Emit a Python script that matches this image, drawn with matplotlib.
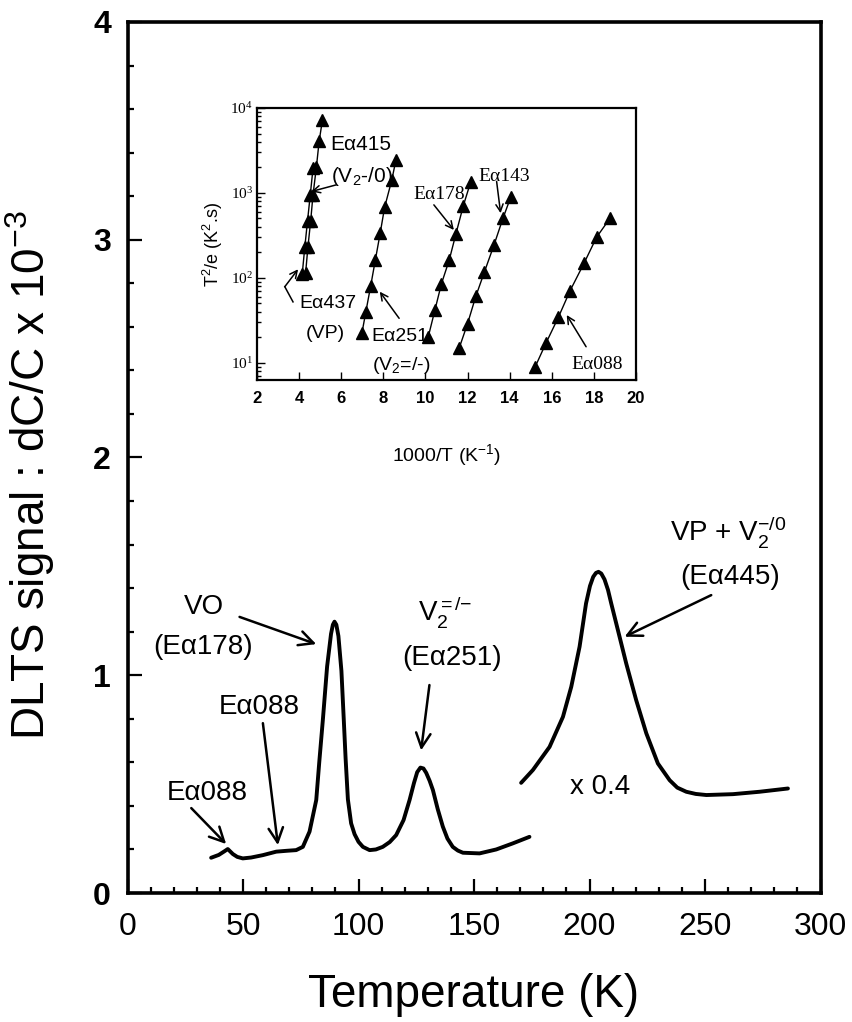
"""DLTS spectrum with Arrhenius-plot inset."""
import matplotlib
matplotlib.use('Agg')
import matplotlib.pyplot as plt
from matplotlib.ticker import MultipleLocator, LogLocator, NullFormatter
import numpy as np

# ---- main DLTS spectrum: low-T part (as measured) ----
T_low = [36.2, 39.5, 42.0, 43.4, 45.6, 47.5, 49.9, 53.5, 58.6, 64.4, 69.0, 73.0,
         75.9, 78.8, 81.7, 83.0, 84.6, 86.4, 88.1, 88.9, 89.6, 90.4, 91.3, 92.6, 93.6, 94.4,
         95.4, 96.8, 98.3, 100.0, 101.9, 104.8, 107.5, 110.5, 113.5, 116.3, 119.5, 122.1,
         124.0, 125.4, 126.8, 128.1, 129.3, 130.8, 132.2, 134.3, 136.5, 138.5, 140.8, 143.0,
         145.2, 152.4, 159.6, 166.8, 174.0]
S_low = [0.162, 0.175, 0.192, 0.202, 0.179, 0.166, 0.159, 0.163, 0.174, 0.190, 0.194, 0.197,
         0.212, 0.282, 0.427, 0.600, 0.800, 1.040, 1.190, 1.232, 1.246, 1.232, 1.180, 1.020, 0.800, 0.620,
         0.430, 0.320, 0.270, 0.235, 0.212, 0.197, 0.200, 0.212, 0.234, 0.266, 0.335, 0.427,
         0.505, 0.555, 0.576, 0.572, 0.552, 0.515, 0.473, 0.385, 0.305, 0.250, 0.212, 0.195,
         0.185, 0.182, 0.200, 0.228, 0.258]

# ---- high-T part (scaled x 0.4) ----
T_high = [170.4, 175.5, 182.7, 188.5, 192.1, 195.7, 198.5, 200.2, 201.6, 202.8, 203.9, 205.1,
          206.5, 208.0, 209.4, 212.3, 215.9, 220.2, 224.6, 229.6, 234.7, 238.0, 241.9, 246.0,
          250.6, 262.1, 273.6, 285.9]
S_high = [0.506, 0.565, 0.671, 0.809, 0.947, 1.131, 1.330, 1.410, 1.452, 1.470, 1.475, 1.467,
          1.440, 1.392, 1.330, 1.207, 1.054, 0.886, 0.733, 0.595, 0.518, 0.484, 0.465, 0.455,
          0.450, 0.454, 0.465, 0.480]

# ---- inset: Arrhenius data, 1000/T vs T^2/e ----
x437 = [4.15, 4.27, 4.40, 4.53, 4.66]
y437 = [112, 230, 470, 950, 1950]
x415 = [4.31, 4.42, 4.55, 4.66, 4.82, 4.95, 5.11]
y415 = [115, 233, 472, 950, 2010, 4050, 7280]
x251 = [6.98, 7.17, 7.40, 7.62, 7.85, 8.06, 8.40, 8.60]
y251 = [22.1, 39.8, 80.4, 162, 335, 676, 1413, 2455]
x178 = [10.13, 10.45, 10.76, 11.13, 11.45, 11.80, 12.15]
y178 = [20.0, 41.7, 85.1, 162, 331, 708, 1350]
x143 = [11.60, 12.00, 12.39, 12.80, 13.26, 13.68, 14.05]
y143 = [14.8, 28.8, 60.3, 117, 245, 501, 891]
x088 = [15.20, 15.72, 16.31, 16.87, 17.53, 18.13, 18.77]
y088 = [8.8, 16.9, 34.1, 70.5, 148, 301, 504]
inset_series = [(x437, y437), (x415, y415), (x251, y251), (x178, y178),
                (x143, y143), (x088, y088)]

# main-panel labels: text, text position, arrow head, arrow tail
main_notes = [
    ('E\u03b1088', (34.6, 0.46), (42.7, 0.225), (27.6, 0.39)),
    ('E\u03b1088', (57.1, 0.855), (65.1, 0.22), (58.6, 0.78)),
    ('(E\u03b1251)', (140.5, 1.077), (127.1, 0.655), (130.7, 0.955)),
    ('(E\u03b1445)', (261.0, 1.452), (215.2, 1.177), (252.7, 1.368)),
    ('(E\u03b1178)', (32.5, 1.131), (81.7, 1.143), (48.5, 1.268)),
]

plt.rcParams.update({'font.family': ['Liberation Sans', 'DejaVu Sans'],
                     'mathtext.fontset': 'custom',
                     'mathtext.rm': 'Liberation Sans',
                     'mathtext.it': 'Liberation Sans:italic',
                     'mathtext.bf': 'Liberation Sans:bold'})

fig = plt.figure(figsize=(8.53, 10.22), dpi=100)
ax = fig.add_axes([0.1495, 0.1262, 0.8124, 0.8523])

ax.plot(T_low, S_low, '-', color='k', lw=2.8, solid_capstyle='round', solid_joinstyle='round')
ax.plot(T_high, S_high, '-', color='k', lw=2.8, solid_capstyle='round', solid_joinstyle='round')

ax.set_xlim(0, 300)
ax.set_ylim(0, 4)
ax.xaxis.set_major_locator(MultipleLocator(50))
ax.xaxis.set_minor_locator(MultipleLocator(10))
ax.yaxis.set_major_locator(MultipleLocator(1))
ax.yaxis.set_minor_locator(MultipleLocator(0.2))
ax.tick_params(which='both', direction='in', top=False, right=False, width=1.6)
ax.tick_params(which='major', length=10)
ax.tick_params(which='minor', length=4.5)
ax.tick_params(axis='x', labelsize=23, pad=14)
ax.tick_params(axis='y', labelsize=23, pad=12)
for lab in ax.get_yticklabels():
    lab.set_fontweight('bold')
for sp in ax.spines.values():
    sp.set_linewidth(2.6)

ax.set_xlabel('Temperature (K)', fontsize=33)
ax.xaxis.set_label_coords(0.5, -0.092)
ax.set_ylabel('DLTS signal : dC/C x 10$^{-3}$', fontsize=33)
ax.yaxis.set_label_coords(-0.102, 0.48)

arrow_kw = dict(arrowstyle='->', color='k', lw=1.8, mutation_scale=26, shrinkA=0, shrinkB=0)
for txt, tpos, head, tail in main_notes:
    ax.text(tpos[0], tpos[1], txt, fontsize=20, ha='center', va='center')
    ax.annotate('', xy=head, xytext=tail, arrowprops=arrow_kw)

ax.text(32.9, 1.314, 'VO', fontsize=20, ha='center', va='center')
ax.text(137.5, 1.29, 'V$_2^{{=}/{-}}$', fontsize=20, ha='center', va='center')
ax.text(260.0, 1.66, 'VP + V$_2^{{-}/0}$', fontsize=20, ha='center', va='center')
ax.text(204.7, 0.488, 'x 0.4', fontsize=20, ha='center', va='center')

# ---- inset ----
ins = fig.add_axes([0.3013, 0.6282, 0.4443, 0.2661])
for xs, ys in inset_series:
    ins.plot(xs, ys, '-', color='k', lw=1.0, marker='^', markersize=8.5,
             markerfacecolor='k', markeredgecolor='k')
ins.set_yscale('log')
ins.set_xlim(2, 20)
ins.set_ylim(6.25, 1e4)
ins.xaxis.set_major_locator(MultipleLocator(2))
ins.yaxis.set_major_locator(LogLocator(base=10, numticks=10))
ins.yaxis.set_minor_locator(LogLocator(base=10, subs=np.arange(2, 10), numticks=10))
ins.yaxis.set_minor_formatter(NullFormatter())
ins.tick_params(which='both', direction='in', top=False, right=False, width=1.0)
ins.tick_params(which='major', length=6)
ins.tick_params(which='minor', length=3)
ins.tick_params(axis='x', labelsize=12, pad=8)
ins.tick_params(axis='y', labelsize=11, pad=3)
for lab in ins.get_xticklabels():
    lab.set_fontweight('bold')
for lab in ins.get_yticklabels():
    lab.set_family(['Liberation Serif'])
for sp in ins.spines.values():
    sp.set_linewidth(1.6)
ins.set_xlabel('1000/T (K$^{-1}$)', fontsize=14)
ins.xaxis.set_label_coords(0.5, -0.227)
ins.set_ylabel('T$^2$/e (K$^2$.s)', fontsize=13)

small_arrow = dict(arrowstyle='->', color='k', lw=1.1, mutation_scale=13, shrinkA=0, shrinkB=0)
ins.text(5.5, 3690, 'E\u03b1415', fontsize=15, ha='left', va='center')
ins.text(5.5, 1550, '(V$_2$-/0)', fontsize=15, ha='left', va='center')
ins.annotate('', xy=(4.58, 1038), xytext=(5.77, 1245), arrowprops=small_arrow)
ins.text(4.03, 50, 'E\u03b1437', fontsize=14, ha='left', va='center')
ins.text(5.25, 22, '(VP)', fontsize=14, ha='center', va='center')
ins.plot([3.71, 3.32], [52, 78.5], '-', color='k', lw=1.1)
ins.annotate('', xy=(3.95, 126), xytext=(3.32, 78.5), arrowprops=small_arrow)
ins.text(7.44, 20.6, 'E\u03b1251', fontsize=14, ha='left', va='center')
ins.text(7.44, 9.36, '(V$_2$=/-)', fontsize=14, ha='left', va='center')
ins.annotate('', xy=(7.83, 68.6), xytext=(8.75, 33.3), arrowprops=small_arrow)
ins.text(9.45, 948, 'E\u03b1178', fontsize=14, ha='left', va='center', family=['Liberation Serif'])
ins.annotate('', xy=(11.35, 366), xytext=(10.40, 723), arrowprops=small_arrow)
ins.text(12.51, 1550, 'E\u03b1143', fontsize=14, ha='left', va='center', family=['Liberation Serif'])
ins.annotate('', xy=(13.57, 577), xytext=(13.38, 1365), arrowprops=small_arrow)
ins.text(16.94, 9.4, 'E\u03b1088', fontsize=14, ha='left', va='center', family=['Liberation Serif'])
ins.annotate('', xy=(16.71, 36.4), xytext=(17.63, 15.4), arrowprops=small_arrow)

plt.savefig('out.png', dpi=100)
